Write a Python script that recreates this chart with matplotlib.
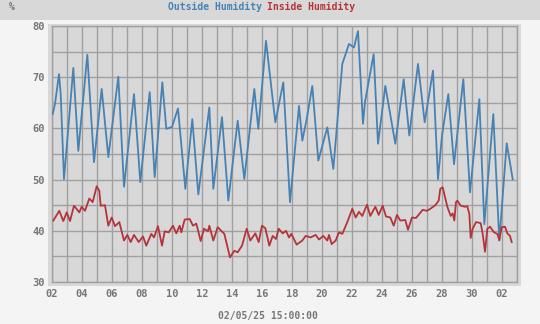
import matplotlib
matplotlib.use("Agg")
import matplotlib.pyplot as plt
import matplotlib.dates as mdates
from matplotlib.patches import Rectangle
import pandas as pd

# hours since 2025-04-02 00:00 and humidity readings (%)
outside_hours = [1.1, 4.8, 11.2, 13.9, 19.2, 34.1, 42.1, 56.5, 67.2, 79.5,
                 90.1, 106.1, 115.2, 131.2, 141.3, 156.3, 164.3, 176.5, 182.9, 192.0,
                 201.6, 213.3, 224.5, 234.1, 251.7, 258.1, 272.0, 282.1, 297.1, 307.7,
                 323.7, 330.1, 342.4, 357.3, 370.1, 380.8, 395.2, 400.5, 407.5, 416.5,
                 426.1, 440.5, 450.1, 464.5, 475.2, 483.2, 489.6, 497.6, 500.8, 514.7,
                 521.6, 533.3, 549.3, 562.7, 571.7, 585.6, 596.3, 609.6, 617.6, 624.0,
                 634.1, 643.2, 658.1, 668.8, 683.7, 691.7, 706.1, 715.7, 727.5, 737.1]
outside_hum = [62.8, 64.8, 70.6, 66.7, 50.1, 71.8, 55.6, 74.4, 53.4, 67.7,
               54.4, 70.1, 48.6, 66.7, 49.5, 67.1, 50.5, 69.0, 59.9, 60.3,
               63.9, 48.2, 61.8, 47.1, 64.1, 48.2, 62.2, 45.9, 61.5, 50.1,
               67.7, 59.9, 77.1, 61.2, 69.0, 45.6, 64.4, 57.6, 61.8, 68.3,
               53.7, 60.2, 52.1, 72.6, 76.5, 75.8, 79.0, 60.9, 65.2, 74.5,
               57.0, 68.3, 57.0, 69.6, 58.6, 72.6, 61.2, 71.3, 50.1, 58.6,
               66.7, 53.0, 69.6, 47.5, 65.7, 41.3, 62.8, 38.1, 57.1, 50.1]

inside_hours = [2.1, 11.7, 18.1, 23.5, 28.8, 35.2, 43.7, 47.5, 52.8, 59.7,
                65.1, 71.5, 75.7, 77.9, 84.8, 90.1, 95.5, 100.8, 107.7, 115.2,
                120.5, 125.9, 131.2, 138.7, 145.6, 150.9, 158.9, 163.2, 169.6, 176.0,
                180.3, 186.7, 193.6, 198.9, 204.3, 206.9, 212.3, 220.3, 225.6, 230.9,
                237.9, 243.2, 249.6, 251.7, 258.1, 265.1, 275.7, 284.8, 291.7, 297.1,
                304.0, 311.5, 317.3, 325.3, 330.7, 336.0, 341.3, 347.7, 353.1, 358.4,
                362.7, 369.1, 374.4, 379.2, 382.9, 391.5, 400.5, 405.9, 413.9, 421.9,
                427.2, 434.1, 440.5, 443.2, 447.5, 453.9, 459.2, 464.5, 472.5, 480.5,
                485.9, 491.2, 496.5, 504.0, 509.3, 517.3, 522.7, 529.1, 534.4, 541.3,
                546.7, 552.0, 557.3, 565.3, 569.6, 576.0, 582.4, 587.7, 593.1, 600.0,
                605.3, 613.3, 618.7, 621.3, 625.1, 632.5, 637.9, 641.1, 643.7, 646.4,
                648.5, 653.9, 660.8, 664.5, 667.7, 669.9, 673.1, 678.4, 685.9, 689.1,
                692.8, 696.5, 700.8, 707.2, 712.5, 715.7, 719.5, 724.8, 728.5, 732.8,
                735.5]
inside_hum = [42.0, 43.9, 41.9, 43.6, 41.9, 44.9, 43.6, 44.7, 43.9, 46.3,
              45.6, 48.7, 47.8, 44.9, 45.0, 41.0, 42.6, 40.9, 41.7, 38.1,
              39.2, 37.8, 39.2, 37.8, 38.9, 37.1, 39.4, 38.7, 40.9, 37.1,
              39.9, 39.7, 41.0, 39.5, 41.0, 39.7, 42.2, 42.3, 41.0, 41.4,
              38.0, 40.4, 39.9, 41.0, 38.1, 40.7, 39.4, 34.8, 36.1, 35.8,
              37.1, 40.4, 38.1, 39.5, 37.8, 41.0, 40.5, 37.1, 39.0, 38.4,
              40.4, 39.5, 40.0, 38.7, 39.4, 37.3, 38.1, 39.0, 38.7, 39.2,
              38.3, 39.0, 38.1, 39.2, 37.4, 38.1, 39.7, 39.4, 41.7, 44.3,
              42.6, 43.7, 42.9, 45.1, 42.9, 44.7, 43.1, 44.9, 42.8, 42.6,
              41.0, 43.1, 42.0, 42.1, 40.2, 42.6, 42.5, 43.3, 44.1, 43.9,
              44.3, 45.0, 45.9, 48.2, 48.5, 44.7, 42.9, 43.4, 42.0, 45.6,
              45.9, 44.9, 44.7, 44.8, 43.3, 38.6, 40.4, 41.7, 41.5, 39.4,
              35.9, 40.4, 40.8, 39.7, 39.4, 38.2, 40.7, 40.8, 39.5, 39.0,
              37.8]

start = pd.Timestamp("2025-04-02 00:00")
end = pd.Timestamp("2025-05-03 00:00")
outside_t = start + pd.to_timedelta(outside_hours, unit="h")
inside_t = start + pd.to_timedelta(inside_hours, unit="h")

W, H = 540, 324
fig = plt.figure(figsize=(W / 100, H / 100), dpi=100)
fig.patch.set_facecolor("#f4f4f4")

# title band and plot frame
fig.add_artist(Rectangle((0, 1 - 20 / H), 1, 20 / H, transform=fig.transFigure,
                         facecolor="#d8d8d8", edgecolor="none", zorder=0))
fig.add_artist(Rectangle((48 / W, 1 - 286 / H), 473 / W, 262 / H, transform=fig.transFigure,
                         facecolor="#d8d8d8", edgecolor="none", zorder=0))

ax = fig.add_axes([52 / W, 1 - 282 / H, 465 / W, 256 / H])
ax.set_facecolor("#d8d8d8")

ax.plot(outside_t, outside_hum, color="#4682b4", lw=1.3, zorder=3)
ax.plot(inside_t, inside_hum, color="#b5343a", lw=1.3, zorder=3)

ax.set_xlim(start, end)
ax.set_ylim(30, 80)
ax.xaxis.set_major_locator(mdates.DayLocator(bymonthday=range(2, 32, 2)))
ax.xaxis.set_minor_locator(mdates.DayLocator())
ax.xaxis.set_major_formatter(mdates.DateFormatter("%d"))
ax.set_yticks(range(30, 81, 10))
ax.set_yticks(range(35, 80, 10), minor=True)

ax.grid(True, which="both", color="#a0a0a0", lw=1.0)
ax.set_axisbelow(True)
for s in ax.spines.values():
    s.set_color("#a0a0a0")
    s.set_linewidth(1.0)

mono = dict(family="DejaVu Sans Mono", weight="bold", size=7)
ax.tick_params(which="both", length=0, pad=5, colors="#777777")
for lbl in ax.get_xticklabels() + ax.get_yticklabels():
    lbl.set_fontfamily("DejaVu Sans Mono")
    lbl.set_fontweight("bold")
    lbl.set_fontsize(7.5)

fig.text(168 / W, 1 - 7 / H, "Outside Humidity", color="#4682b4", ha="left", va="center", **mono)
fig.text(267 / W, 1 - 7 / H, "Inside Humidity", color="#b5343a", ha="left", va="center", **mono)
fig.text(12 / W, 1 - 7 / H, "%", color="#777777", ha="center", va="center", **mono)
fig.text(268 / W, 1 - 316 / H, "02/05/25 15:00:00", color="#777777", ha="center", va="center", **mono)

fig.savefig("out.png", dpi=100, facecolor=fig.get_facecolor())
